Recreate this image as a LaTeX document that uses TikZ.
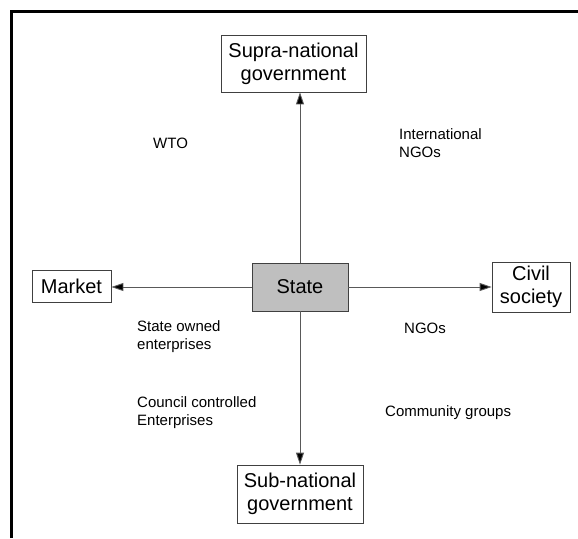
\documentclass[tikz,border=0pt]{standalone}
\usepackage{fontspec}
\setmainfont{Liberation Sans}
\usetikzlibrary{arrows.meta}
\begin{document}
\begin{tikzpicture}[x=1pt,y=-1pt,
  box/.style={draw=black!75,line width=0.8pt,fill=white,align=center,inner sep=0pt,
    font=\fontsize{20}{23}\selectfont},
  statebox/.style={box,fill=black!25},
  note/.style={anchor=west,align=left,inner sep=0pt,font=\fontsize{15}{18}\selectfont},
  link/.style={draw=black!65,line width=0.9pt,-{Triangle[length=12pt,width=8pt,fill=black]}},
  frame/.style={line width=3pt,draw=black}]
\useasboundingbox (0,0) rectangle (578,538);
% partial frame along the top and left
\draw[frame] (11.5,538) -- (11.5,11.5) -- (578,11.5);

% boxes
\node[statebox,minimum width=96pt,minimum height=48pt] (state) at (300,287) {State};
\node[box,minimum width=145pt,minimum height=57pt] (supra) at (293.5,63.5) {Supra-national\\government};
\node[box,minimum width=126pt,minimum height=58pt] (sub) at (300,494) {Sub-national\\government};
\node[box,minimum width=79pt,minimum height=32pt] (market) at (71.5,286) {Market};
\node[box,minimum width=78pt,minimum height=50pt] (civil) at (531,287) {Civil\\society};

% connectors
\draw[link] (state.north) -- (state.north |- supra.south);
\draw[link] (state.south) -- (state.south |- sub.north);
\draw[link] (state.west) -- (market.east |- state.west);
\draw[link] (state.east) -- (civil.west |- state.east);

% labels
\node[note] (wto) at (153,143) {WTO};
\node[note] (ingo) at (399,143) {International\\NGOs};
\node[note] (soe) at (137,337) {State owned\\enterprises};
\node[note] (ngo) at (404,328) {NGOs};
\node[note] (cce) at (137,413) {Council controlled\\Enterprises};
\node[note] (cg) at (385,413) {Community groups};
\end{tikzpicture}
\end{document}
